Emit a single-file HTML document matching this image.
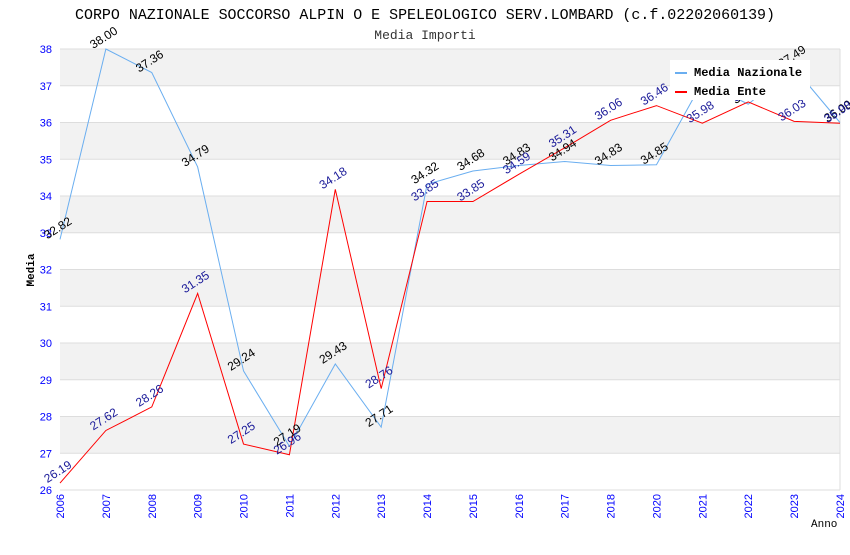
<!DOCTYPE html>
<html><head><meta charset="utf-8"><style>
body{margin:0;background:#fff;}
svg text{font-family:"Liberation Sans",sans-serif;}
.mono{font-family:"Liberation Mono",monospace;}
</style></head><body>
<svg id="chart" width="850" height="550" xmlns="http://www.w3.org/2000/svg">
<text class="mono" x="425" y="19" text-anchor="middle" font-size="14.5" textLength="700" lengthAdjust="spacingAndGlyphs" fill="#000">CORPO NAZIONALE SOCCORSO ALPIN O E SPELEOLOGICO SERV.LOMBARD (c.f.02202060139)</text>
<text class="mono" x="425" y="39" text-anchor="middle" font-size="13" fill="#333">Media Importi</text>
<g id="grid"></g><g id="axes"></g><g id="series"></g><g id="labels"></g>
<text class="mono" x="34" y="270" font-size="11" font-weight="bold" text-anchor="middle" transform="rotate(-90 34 270)">Media</text>
<text class="mono" x="811" y="527" font-size="11">Anno</text>
<g>
<rect x="670" y="60" width="140" height="40" fill="#fff"/>
<line x1="675" y1="73" x2="687" y2="73" stroke="#6aaef0" stroke-width="2"/>
<text class="mono" x="694" y="76" font-size="12" font-weight="bold">Media Nazionale</text>
<line x1="675" y1="92" x2="687" y2="92" stroke="#f00" stroke-width="2"/>
<text class="mono" x="694" y="95" font-size="12" font-weight="bold">Media Ente</text>
</g>
</svg>
<script>
const categories=["2006","2007","2008","2009","2010","2011","2012","2013","2014","2015","2016","2017","2018","2020","2021","2022","2023","2024"];
const nazionale=[32.82,38.00,37.36,34.79,29.24,27.19,29.43,27.71,34.32,34.68,34.83,34.94,34.83,34.85,37.1,36.5,37.49,36.0];
const ente=[26.19,27.62,28.26,31.35,27.25,26.96,34.18,28.76,33.85,33.85,34.59,35.31,36.06,36.46,35.98,36.56,36.03,35.98];
const yTicks=[26,27,28,29,30,31,32,33,34,35,36,37,38];
const NS="http://www.w3.org/2000/svg";
const X0=60,X1=840,Y0=490,Y1=49,YMIN=26,YMAX=38;
function xs(i){return X0+(X1-X0)*i/(categories.length-1);}
function ys(v){return Y0-(v-YMIN)/(YMAX-YMIN)*(Y0-Y1);}
function mk(tag,attrs,parent){const e=document.createElementNS(NS,tag);for(const k in attrs)e.setAttribute(k,attrs[k]);document.getElementById(parent).appendChild(e);return e;}
for(let i=0;i<yTicks.length-1;i++){
  const r=mk('rect',{x:X0,y:ys(yTicks[i+1]),width:X1-X0,height:ys(yTicks[i])-ys(yTicks[i+1]),fill:i%2?'#f2f2f2':'#fff'},'grid');
  
  
}
yTicks.forEach(t=>{
  const l=mk('line',{x1:X0,x2:X1,y1:ys(t),y2:ys(t),stroke:'#ddd'},'grid');
  
  
  const tx=mk('text',{x:X0-8,y:ys(t)+4,'text-anchor':'end','font-size':'11',fill:'#00f'},'axes');
  tx.textContent=t;
  
  
});
mk('line',{x1:X1,x2:X1,y1:Y1,y2:Y0,stroke:'#ddd'},'grid');
categories.forEach((c,i)=>{
  const tx=mk('text',{x:xs(i)+4,y:Y0+4,'text-anchor':'end','font-size':'11',fill:'#00f',transform:`rotate(-90 ${xs(i)+4} ${Y0+4})`},'axes');
  tx.textContent=c;
  
  
});
function series(vals,color,lc,name){
  const p=mk('polyline',{points:vals.map((v,i)=>xs(i)+','+ys(v)).join(' '),fill:'none',stroke:color,'stroke-width':1},'series');
  
  
  vals.forEach((v,i)=>{
    const x=xs(i),y=ys(v)-8;
    const t=mk('text',{x:x,y:y,'text-anchor':'middle','font-size':'12',fill:lc,transform:`rotate(-33 ${x} ${y})`},'labels');
    t.textContent=v.toFixed(2);
    
    
  });
}
series(nazionale,'#6aaef0','#000','nazionale');
series(ente,'#f00','#1a1a99','ente');
</script>
</body></html>
